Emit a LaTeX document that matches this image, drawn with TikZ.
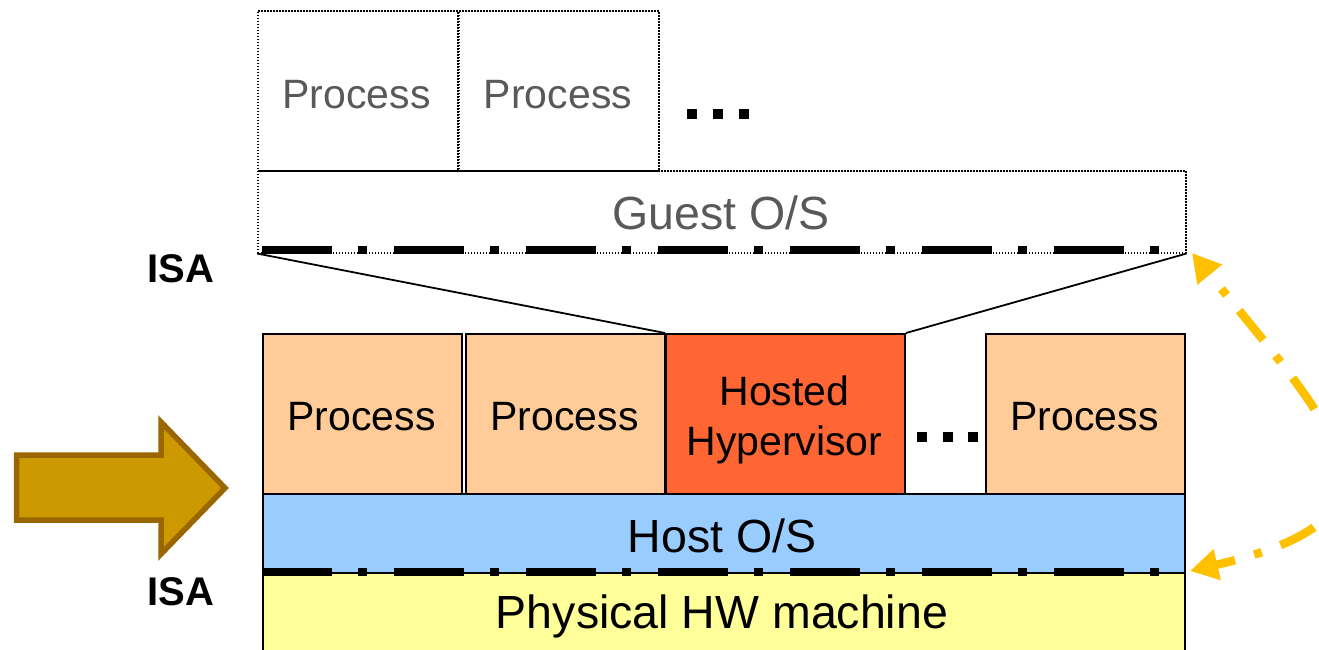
\documentclass[tikz,border=0pt]{standalone}
\usepackage{fontspec}
\setmainfont{Liberation Sans}
\usetikzlibrary{arrows.meta}
\definecolor{procfill}{HTML}{FFCC99}
\definecolor{hypfill}{HTML}{FF6633}
\definecolor{hostfill}{HTML}{99CCFF}
\definecolor{hwfill}{HTML}{FFFF99}
\definecolor{arrowfill}{HTML}{CC9900}
\definecolor{arrowedge}{HTML}{996600}
\definecolor{migrate}{HTML}{FFC000}
\definecolor{guesttext}{HTML}{595959}
\begin{document}
\begin{tikzpicture}[x=1pt, y=-1pt,
  box/.style={draw=black, line width=2pt, inner sep=0pt, anchor=north west},
  proc/.style={box, fill=procfill, minimum width=199pt, minimum height=160pt},
  vbox/.style={draw=black, line width=1.5pt, dash pattern=on 1.5pt off 1.5pt,
               inner sep=0pt, anchor=north west},
  lbl/.style={font=\fontsize{41}{50}\selectfont, anchor=base, inner sep=0pt},
  biglbl/.style={lbl, font=\fontsize{46.5}{50}\selectfont},
  glbl/.style={lbl, text=guesttext},
  isalbl/.style={lbl, font=\fontsize{40}{50}\selectfont\bfseries},
  isaline/.style={line width=8pt, dash pattern=on 70pt off 26pt on 9pt off 27pt},
  sq/.style={fill=black, minimum size=10pt, inner sep=0pt, anchor=north west},
  funnel/.style={line width=1.8pt},
  migratearrow/.style={draw=migrate, line width=8.5pt,
     dash pattern=on 38pt off 20pt on 8pt off 20pt, dash phase=18pt,
     {Triangle[length=28pt,width=30pt]}-{Triangle[length=28pt,width=30pt]}}
]
\useasboundingbox (0,0) rectangle (1319,649);
\clip (0,0) rectangle (1319,649);

% host side: processes, hypervisor, host O/S, hardware
\node[proc] (p1) at (262,333) {};
\node[proc] (p2) at (465,333) {};
\node[box, fill=hypfill, minimum width=239pt, minimum height=160pt] (hyp) at (665,333) {};
\node[proc, minimum height=161pt] (p4) at (985,333) {};
\node[box, fill=hostfill, minimum width=922pt, minimum height=79pt] (host) at (262,493) {};
\node[box, fill=hwfill, minimum width=922pt, minimum height=90pt] (hw) at (262,572) {};

\node[lbl] (p1t) at (361.5,430) {Process};
\node[lbl] (p2t) at (564.5,430) {Process};
\node[lbl] (p4t) at (1084.5,430) {Process};
\node[lbl, anchor=center, align=center] (hypt) at (784.5,420) {Hosted\\Hypervisor};
\node[biglbl] (hostt) at (722,552) {Host O/S};
\node[biglbl] (hwt) at (722,628) {Physical HW machine};

\node[sq] (ld1) at (917,432) {};
\node[sq] (ld2) at (943,432) {};
\node[sq] (ld3) at (968,432) {};

% guest side: virtual machine contents
\node[vbox, minimum width=200pt, minimum height=160pt] (up1) at (257,10) {};
\node[vbox, minimum width=200pt, minimum height=160pt] (up2) at (458,10) {};
\node[vbox, minimum width=928pt, minimum height=82pt] (guest) at (257,170) {};

\node[glbl] (up1t) at (356.5,108) {Process};
\node[glbl] (up2t) at (558,108) {Process};
\node[glbl, biglbl] (guestt) at (721,229) {Guest O/S};

\node[sq] (ud1) at (687,109) {};
\node[sq] (ud2) at (713,109) {};
\node[sq] (ud3) at (739,109) {};

% ISA interfaces
\coordinate (gisaL) at (262,250);
\coordinate (gisaR) at (1166,250);
\coordinate (hisaL) at (262,572);
\coordinate (hisaR) at (1166,572);
\draw[isaline] (gisaL) -- (gisaR);
\draw[isaline] (hisaL) -- (hisaR);
\node[isalbl] (isa1) at (181,282) {ISA};
\node[isalbl] (isa2) at (181,605) {ISA};

% the guest machine lives inside the hypervisor
\draw[funnel] (guest.south west) -- (hyp.north west);
\draw[funnel] (guest.south east) -- (hyp.north east);

% big pointer arrow
\draw[line width=5.5pt, draw=arrowedge, fill=arrowfill, line join=miter]
  (16.5,455) -- (161,455) -- (161,422) -- (225,488) -- (161,554)
  -- (161,520) -- (16.5,520) -- cycle;

% correspondence between the two ISA levels
\coordinate (mlow) at (1190,571);
\coordinate (mhigh) at (1192,253);
\draw[migratearrow] (mlow) .. controls (1420,517) and (1345,440) .. (mhigh);
\end{tikzpicture}
\end{document}
